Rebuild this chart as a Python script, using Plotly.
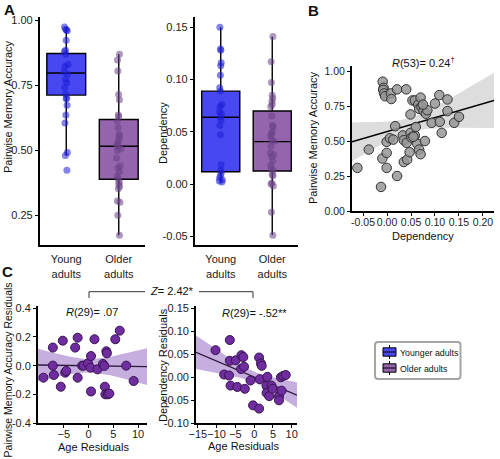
import numpy as np
import plotly.graph_objects as go

W, H = 500, 459
FONT = "Liberation Sans, Arial, sans-serif"

# ---------------- data ----------------
groups = ["Young<br>adults", "Older<br>adults"]
legend_names = ["Younger adults", "Older adults"]

young_acc = [0.974, 0.966, 0.963, 0.960, 0.923, 0.885, 0.880, 0.869, 0.830, 0.822, 0.801,
             0.792, 0.772, 0.760, 0.741, 0.716, 0.701, 0.698, 0.673, 0.635, 0.605, 0.491,
             0.480, 0.423]
older_acc = [0.869, 0.847, 0.805, 0.714, 0.694, 0.635, 0.630, 0.612, 0.586, 0.560, 0.554,
             0.540, 0.530, 0.515, 0.506, 0.498, 0.470, 0.440, 0.430, 0.417, 0.402, 0.390,
             0.378, 0.370, 0.360, 0.352, 0.304, 0.300, 0.250, 0.173, 0.520]
young_dep = [0.150, 0.129, 0.128, 0.116, 0.113, 0.104, 0.092, 0.089, 0.076, 0.074, 0.069,
             0.067, 0.064, 0.061, 0.056, 0.047, 0.0185, 0.013, 0.011, 0.008, 0.006, 0.004,
             0.003, 0.002]
older_dep = [0.141, 0.117, 0.097, 0.085, 0.082, 0.079, 0.076, 0.074, 0.065, 0.056, 0.055,
             0.050, 0.046, 0.042, 0.041, 0.036, 0.030, 0.028, 0.026, 0.022, 0.018, 0.015,
             0.013, 0.009, 0.008, 0.001, 0.000, -0.002, -0.027, -0.049, 0.048]

# box summaries (q1, median, q3, lower whisker, upper whisker)
acc_q1 = [0.712, 0.388]; acc_med = [0.797, 0.515]; acc_q3 = [0.872, 0.618]
acc_lo = [0.480, 0.173]; acc_hi = [0.974, 0.869]
dep_q1 = [0.0118, 0.0124]; dep_med = [0.0638, 0.0405]; dep_q3 = [0.0888, 0.0698]
dep_lo = [0.002, -0.0487]; dep_hi = [0.150, 0.1408]

# panel B: dependency vs accuracy
b_dep = [-0.0618, -0.038, -0.0125, -0.009, -0.007, -0.008, -0.006, -0.004, -0.0097, -0.0007,
         -0.0007, -0.0007, 0.008, 0.009, 0.006, 0.013, 0.017, 0.021, 0.021, 0.040, 0.033,
         0.035, 0.041, 0.035, 0.042, 0.047, 0.049, 0.051, 0.049, 0.053, 0.058, 0.058, 0.060,
         0.063, 0.065, 0.067, 0.070, 0.072, 0.076, 0.081, 0.084, 0.067, 0.070, 0.079, 0.093,
         0.100, 0.109, 0.110, 0.114, 0.126, 0.126, 0.140, 0.150, 0.075, 0.055]
b_acc = [0.308, 0.439, 0.172, 0.924, 0.880, 0.865, 0.840, 0.820, 0.375, 0.415,
         0.494, 0.308, 0.840, 0.800, 0.520, 0.510, 0.606, 0.250, 0.869, 0.869, 0.540,
         0.506, 0.487, 0.350, 0.367, 0.420, 0.558, 0.525, 0.690, 0.790, 0.790, 0.540, 0.600,
         0.480, 0.760, 0.730, 0.810, 0.745, 0.715, 0.695, 0.720, 0.439, 0.406, 0.500, 0.630,
         0.768, 0.828, 0.637, 0.558, 0.797, 0.714, 0.630, 0.673, 0.760, 0.530]

# panel C: older adults residuals
c_age1 = [-9.1, -7.2, -7.2, -7.0, -5.2, -4.7, -4.5, -5.6, -2.7, -2.2, -2.2, -1.3, -1.0,
          -0.1, 0.5, 0.4, 0.5, 1.2, 1.8, 2.9, 3.2, 3.3, 3.6, 3.7, 3.4, 3.9, 4.2, 5.4, 6.3,
          7.6, 9.1]
c_acc = [-0.084, 0.126, 0.0, -0.065, 0.174, -0.049, -0.037, -0.147, 0.126, 0.195, -0.084,
         0.0, 0.0, 0.016, 0.067, -0.014, -0.18, 0.184, -0.026, 0.012, -0.002, -0.147, 0.10,
         0.086, -0.20, -0.20, -0.195, 0.184, 0.244, 0.0, -0.107]
c_age2 = [-10.3, -6.5, -8.0, -6.7, -6.3, -6.5, -4.9, -4.5, -3.4, -2.9, -3.5, -2.7, -2.5,
          -1.0, -0.3, 1.3, 1.8, 2.0, 1.5, 1.3, 3.5, 3.3, 3.3, 4.0, 4.6, 4.9, 6.6, 6.6, 7.3,
          7.1, 7.7, 8.4]
c_dep = [0.059, 0.081, 0.006, 0.004, -0.018, 0.036, 0.037, -0.021, 0.048, 0.044, 0.018,
         0.023, -0.025, -0.007, -0.061, 0.043, 0.030, 0.025, -0.004, -0.068, 0.001, -0.019,
         -0.034, -0.041, -0.018, -0.025, -0.041, -0.050, -0.029, 0.0, 0.003, 0.005]

# ---------------- helpers ----------------
def dx(x0, x1):
    return [x0 / W, x1 / W]

def dy(y0, y1):
    return [1 - y1 / H, 1 - y0 / H]

def px(x):
    return x / W

def py(y):
    return 1 - y / H

def fit_band(x, y, xr, t):
    x = np.asarray(x, float); y = np.asarray(y, float); n = len(x)
    b, a = np.polyfit(x, y, 1)
    res = y - (a + b * x)
    s = np.sqrt((res ** 2).sum() / (n - 2))
    xm = x.mean(); sxx = ((x - xm) ** 2).sum()
    g = np.linspace(xr[0], xr[1], 120)
    yh = a + b * g
    se = s * np.sqrt(1 / n + (g - xm) ** 2 / sxx)
    return g, yh, yh - t * se, yh + t * se

axis_base = dict(showline=True, linecolor="black", showgrid=False, zeroline=False,
                 ticks="outside", ticklen=3, tickwidth=1, tickcolor="black", automargin=False,
                 tickfont=dict(family=FONT, size=11, color="#222"), fixedrange=True)

fig = go.Figure()

box_fill = ["rgb(72,72,242)", "rgb(148,100,172)"]
pt_col = ["rgb(30,30,215)", "rgb(105,65,135)"]

# ---------------- Panel A ----------------
panels = [("x", "y", acc_q1, acc_med, acc_q3, acc_lo, acc_hi, [young_acc, older_acc]),
          ("x2", "y2", dep_q1, dep_med, dep_q3, dep_lo, dep_hi, [young_dep, older_dep])]
for pi, (xa, ya, q1, md, q3, lo, hi, pts) in enumerate(panels):
    for g in range(2):
        fig.add_trace(go.Box(x=[g], q1=[q1[g]], median=[md[g]], q3=[q3[g]],
                             lowerfence=[lo[g]], upperfence=[hi[g]], width=0.74,
                             fillcolor=box_fill[g], line=dict(color="black", width=1.4),
                             whiskerwidth=0, boxpoints=False, name=legend_names[g],
                             showlegend=False, xaxis=xa, yaxis=ya, hoverinfo="skip"))
    for g in range(2):
        fig.add_trace(go.Box(x=[g] * len(pts[g]), y=pts[g], width=0.74, boxpoints="all",
                             jitter=0.12, pointpos=0, fillcolor="rgba(0,0,0,0)",
                             line=dict(color="rgba(0,0,0,0)", width=0),
                             marker=dict(color=pt_col[g], size=7, opacity=0.55,
                                         line=dict(width=0)),
                             showlegend=False, xaxis=xa, yaxis=ya, hoverinfo="skip"))

# ---------------- Panel B ----------------
bxr = [-0.073, 0.223]
g, yh, lo_, hi_ = fit_band(b_dep, b_acc, bxr, 2.006)
fig.add_trace(go.Scatter(x=np.concatenate([g, g[::-1]]), y=np.concatenate([lo_, hi_[::-1]]),
                         fill="toself", fillcolor="rgba(210,210,210,0.75)", line=dict(width=0),
                         mode="lines", showlegend=False, xaxis="x3", yaxis="y3", hoverinfo="skip"))
fig.add_trace(go.Scatter(x=g, y=yh, mode="lines", line=dict(color="black", width=1.5),
                         showlegend=False, xaxis="x3", yaxis="y3", hoverinfo="skip"))
fig.add_trace(go.Scatter(x=b_dep, y=b_acc, mode="markers",
                         marker=dict(size=9.5, color="rgba(150,150,150,0.85)",
                                     line=dict(color="rgb(50,50,50)", width=1)),
                         showlegend=False, xaxis="x3", yaxis="y3", hoverinfo="skip"))

# ---------------- Panel C ----------------
c1xr = [-10.2, 11.8]
c2xr = [-15.5, 11.4]
for xs, ys, xr, xa, ya in [(c_age1, c_acc, c1xr, "x4", "y4"), (c_age2, c_dep, c2xr, "x5", "y5")]:
    g, yh, lo_, hi_ = fit_band(xs, ys, xr, 2.045)
    fig.add_trace(go.Scatter(x=np.concatenate([g, g[::-1]]), y=np.concatenate([lo_, hi_[::-1]]),
                             fill="toself", fillcolor="rgba(160,120,200,0.6)", line=dict(width=0),
                             mode="lines", showlegend=False, xaxis=xa, yaxis=ya, hoverinfo="skip"))
    fig.add_trace(go.Scatter(x=g, y=yh, mode="lines", line=dict(color="rgb(45,25,60)", width=1.3),
                             showlegend=False, xaxis=xa, yaxis=ya, hoverinfo="skip"))
    fig.add_trace(go.Scatter(x=xs, y=ys, mode="markers",
                             marker=dict(size=9, color="rgb(112,45,160)",
                                         line=dict(color="rgb(55,20,80)", width=1)),
                             showlegend=False, xaxis=xa, yaxis=ya, hoverinfo="skip"))

# ---------------- axes ----------------
lay = {}
lay["xaxis"] = dict(axis_base, domain=dx(40, 145), range=[-0.5, 1.5], anchor="y",
                    tickvals=[0, 1], ticktext=groups, ticks="", linewidth=2.2,
                    ticklabelstandoff=3)
lay["yaxis"] = dict(axis_base, domain=dy(17, 245), range=[0.135, 1.0127], anchor="x",
                    tickvals=[0.25, 0.5, 0.75, 1.0], ticktext=["0.25", "0.50", "0.75", "1.00"],
                    linewidth=2.2)
lay["xaxis2"] = dict(axis_base, domain=dx(195, 298), range=[-0.5, 1.5], anchor="y2",
                     tickvals=[0, 1], ticktext=groups, ticks="", linewidth=2.2,
                     ticklabelstandoff=3)
lay["yaxis2"] = dict(axis_base, domain=dy(17, 245), range=[-0.0583, 0.1597], anchor="x2",
                     tickvals=[-0.05, 0, 0.05, 0.10, 0.15],
                     ticktext=["-0.05", "0.00", "0.05", "0.10", "0.15"], linewidth=2.2)
lay["xaxis3"] = dict(axis_base, domain=dx(352, 494), range=bxr, anchor="y3",
                     tickvals=[-0.05, 0, 0.05, 0.10, 0.15, 0.20],
                     ticktext=["-0.05", "0.00", "0.05", "0.10", "0.15", "0.20"],
                     tickangle=0, linewidth=2, ticklabelstandoff=-3,
                     tickfont=dict(family=FONT, size=10.5, color="#222"))
lay["yaxis3"] = dict(axis_base, domain=dy(66, 211), range=[0, 1.036], anchor="x3",
                     tickvals=[0, 0.25, 0.5, 0.75, 1.0],
                     ticktext=["0.00", "0.25", "0.50", "0.75", "1.00"], linewidth=2,
                     tickfont=dict(family=FONT, size=10.5, color="#222"))
lay["xaxis4"] = dict(axis_base, domain=dx(38, 147), range=c1xr, anchor="y4",
                     tickvals=[-5, 0, 5, 10], tickangle=0, linewidth=1.8, ticklabelstandoff=-3)
lay["yaxis4"] = dict(axis_base, domain=dy(306, 423), range=[-0.4, 0.416], anchor="x4",
                     tickvals=[-0.4, -0.2, 0, 0.2, 0.4],
                     ticktext=["-0.4", "-0.2", "0.0", "0.2", "0.4"], linewidth=1.8)
lay["xaxis5"] = dict(axis_base, domain=dx(196, 297), range=c2xr, anchor="y5",
                     tickvals=[-15, -10, -5, 0, 5, 10], tickangle=0, linewidth=1.8,
                     ticklabelstandoff=-3)
lay["yaxis5"] = dict(axis_base, domain=dy(306, 423.3), range=[-0.10, 0.155], anchor="x5",
                     tickvals=[-0.10, -0.05, 0, 0.05, 0.10, 0.15],
                     ticktext=["-0.10", "-0.05", "0.00", "0.05", "0.10", "0.15"], linewidth=1.8)

def ann(text, x, y, size=11, angle=0, bold=False, xanchor="center", **kw):
    t = f"<b>{text}</b>" if bold else text
    return dict(text=t, x=px(x), y=py(y), xref="paper", yref="paper", showarrow=False,
                xanchor=xanchor, yanchor="middle", textangle=angle,
                font=dict(family=FONT, size=size, color="#111"), **kw)

annotations = [
    ann("A", 9, 10, size=15, bold=True),
    ann("B", 313, 11, size=15, bold=True),
    ann("C", 7, 271, size=15, bold=True),
    ann("Pairwise Memory Accuracy", 8, 107, angle=-90),
    ann("Dependency", 163, 133, angle=-90),
    ann("Pairwise Memory Accuracy", 313, 138, angle=-90),
    ann("Dependency", 423, 236),
    ann("<i>R</i>(53)= 0.24<sup>†</sup>", 423, 62),
    ann("Pairwise Memory Accuracy Residuals", 7.5, 370, size=10.5, angle=-90),
    ann("Dependency Residuals", 163, 365, angle=-90),
    ann("Age Residuals", 93, 447),
    ann("Age Residuals", 243, 446),
    ann("<i>R</i>(29)= .07", 92, 312),
    ann("<i>R</i>(29)= -.52**", 254, 313),
    ann("<i>Z</i>= 2.42*", 172, 291),
]

def seg(x0, y0, x1, y1, color="#333", width=1):
    return dict(type="line", xref="paper", yref="paper", x0=px(x0), x1=px(x1),
                y0=py(y0), y1=py(y1), line=dict(color=color, width=width))

shapes = [
    seg(89, 298, 89, 291.7), seg(89, 291.7, 145, 291.7),
    seg(199, 291.7, 253, 291.7), seg(253, 291.7, 253, 298),
]

# ---------------- legend (drawn as a key box) ----------------
lx0, lx1, ly0, ly1, r = 375, 460.5, 342, 379, 3
path = (f"M {px(lx0 + r)},{py(ly0)} L {px(lx1 - r)},{py(ly0)} "
        f"Q {px(lx1)},{py(ly0)} {px(lx1)},{py(ly0 + r)} L {px(lx1)},{py(ly1 - r)} "
        f"Q {px(lx1)},{py(ly1)} {px(lx1 - r)},{py(ly1)} L {px(lx0 + r)},{py(ly1)} "
        f"Q {px(lx0)},{py(ly1)} {px(lx0)},{py(ly1 - r)} L {px(lx0)},{py(ly0 + r)} "
        f"Q {px(lx0)},{py(ly0)} {px(lx0 + r)},{py(ly0)} Z")
shapes.append(dict(type="path", xref="paper", yref="paper", path=path,
                   line=dict(color="rgb(165,165,165)", width=2), fillcolor="white"))
for i, (name, col) in enumerate(zip(legend_names, box_fill)):
    cy = 352 + i * 16
    shapes.append(seg(389.5, cy - 7, 389.5, cy + 7, color="black", width=1))
    shapes.append(dict(type="rect", xref="paper", yref="paper", x0=px(383), x1=px(396),
                       y0=py(cy - 4.2), y1=py(cy + 4.2), fillcolor=col,
                       line=dict(color="black", width=1)))
    shapes.append(seg(383, cy, 396, cy, color="black", width=1))
    annotations.append(ann(name, 397.5, cy + 0.5, size=8.8, xanchor="left"))

fig.update_layout(
    template="none",
    width=W, height=H, margin=dict(l=0, r=0, t=0, b=0, autoexpand=False),
    paper_bgcolor="white", plot_bgcolor="white",
    boxmode="overlay", showlegend=False,
    font=dict(family=FONT, size=11, color="#222"),
    annotations=annotations, shapes=shapes,
    **lay,
)

fig.write_html("out.html", config={"displayModeBar": False},
               post_script="document.body.style.margin='0';document.body.style.padding='0';")
